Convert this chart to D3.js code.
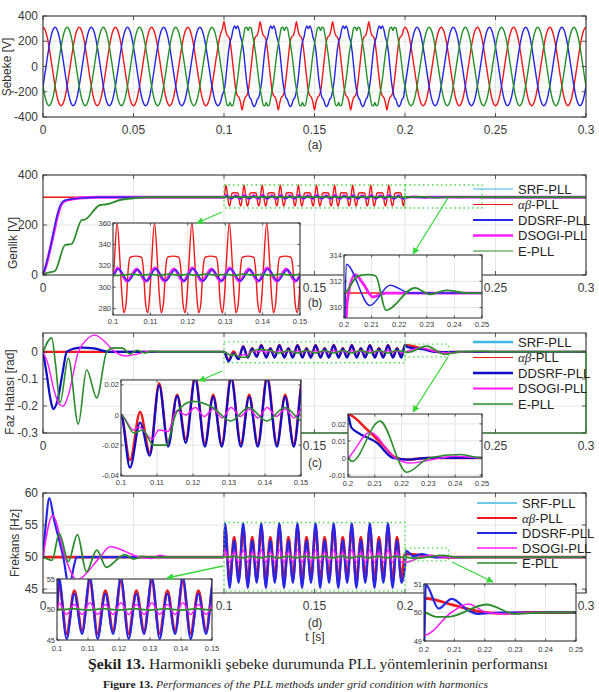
<!DOCTYPE html>
<html>
<head>
<meta charset="utf-8">
<script src="https://cdn.jsdelivr.net/npm/d3@7"></script>
<style>
body { margin: 0; background: #fff; }
svg { display: block; font-family: "Liberation Sans", Arial, sans-serif; }
</style>
</head>
<body>
<svg id="fig" width="599" height="692"></svg>
<script>
/***    DATA    **/

var timeTicks = [0, 0.05, 0.1, 0.15, 0.2, 0.25, 0.3];
var gridTicks = [-400, -200, 0, 200, 400];
var ampTicks = [0, 200, 400];
var phaseTicks = [-0.3, -0.2, -0.1, 0];
var freqTicks = [45, 50, 55, 60];
var zoomTicksA = [0.1, 0.11, 0.12, 0.13, 0.14, 0.15];
var zoomTicksB = [0.2, 0.21, 0.22, 0.23, 0.24, 0.25];
var ampZoomTicksA = [280, 300, 320, 340, 360];
var ampZoomTicksB = [310, 312, 314];
var phaseZoomTicksA = [-0.04, -0.02, 0, 0.02];
var phaseZoomTicksB = [-0.01, 0, 0.01, 0.02];
var freqZoomTicksA = [45, 50, 55];
var freqZoomTicksB = [49, 50, 51];

var methods = ['SRF-PLL', 'αβ-PLL', 'DDSRF-PLL', 'DSOGI-PLL', 'E-PLL'];

// (a) one 20 ms cycle of each phase, 24 samples, starting at that phase's peak [V]
var gridCleanCycle = [311, 300, 269, 220, 156, 80, 0, -80, -156, -220, -269, -300, -311, -300, -269, -220, -156, -80, 0, 80, 156, 220, 269, 300];
var gridHarmCycleA = [355, 292, 248, 236, 205, 112, 0, -108, -200, -232, -245, -285, -345, -285, -245, -232, -200, -108, 0, 112, 205, 236, 248, 292];
var gridHarmCycleB = [300, 322, 292, 232, 195, 118, 0, -118, -195, -245, -262, -300, -318, -300, -262, -245, -195, -118, 0, 118, 195, 232, 292, 322];
var gridHarmCycleC = [285, 312, 305, 245, 180, 100, 0, -100, -180, -245, -305, -312, -285, -312, -305, -245, -180, -100, 0, 100, 180, 245, 305, 312];

// harmonic window 0.1 - 0.2 s, oscillation cycles repeat every 10 ms
var harmPeriod = 0.01;

// (b) amplitude [V]: [t, value]
var ampAbStart = [[0, 311.1], [0.1, 311.1]];
var ampAbCycle = [[0, 360], [0.0008, 322], [0.0013, 292], [0.0018, 276], [0.0024, 285], [0.003, 318], [0.0035, 328], [0.005, 329], [0.0065, 328], [0.007, 318], [0.0076, 285], [0.0082, 276], [0.0087, 292], [0.0092, 322]];
var ampAbEnd = [[0.2, 311.1], [0.3, 311.1]];

var ampDdStart = [[0, 0], [0.002, 50], [0.004, 110], [0.006, 180], [0.008, 245], [0.01, 285], [0.012, 298], [0.016, 304], [0.022, 308], [0.03, 311], [0.1, 311]];
var ampDdCycle = [[0, 317], [0.0027, 306], [0.0052, 316], [0.0077, 306]];
var ampDdEnd = [[0.2, 306], [0.2008, 313.3], [0.2094, 310.15], [0.2167, 311.7], [0.224, 311.1], [0.3, 311.1]];

var ampDsoStart = [[0, 0], [0.002, 45], [0.004, 105], [0.006, 170], [0.008, 235], [0.01, 280], [0.012, 296], [0.016, 303], [0.022, 309], [0.03, 311], [0.1, 311]];
var ampDsoCycle = [[0, 318], [0.0026, 305.5], [0.0051, 317], [0.0076, 305.5]];
var ampDsoEnd = [[0.2, 306], [0.2012, 310.5], [0.204, 312.5], [0.207, 311.8], [0.2105, 310.8], [0.215, 311.1], [0.3, 311.1]];

var ampEStart = [[0, 0], [0.002, 8], [0.0066, 16], [0.0122, 120], [0.0158, 124], [0.0214, 220], [0.0232, 222], [0.0315, 280], [0.0352, 283], [0.0425, 300], [0.05, 307], [0.059, 311], [0.1, 311]];
var ampECycle = [[0, 311], [0.0025, 312.3], [0.005, 311.2], [0.0075, 312]];
var ampEEnd = [[0.2, 311.1], [0.205, 312.4], [0.209, 312.5], [0.2115, 312.4], [0.2152, 309.8], [0.2257, 311.5], [0.231, 311], [0.237, 311.3], [0.245, 311.1], [0.3, 311.1]];

// (c) phase error [rad]
var phAbStart = [[0, 0], [0.1, 0], [0.1025, -0.03], [0.1053, 0.002], [0.108, -0.025], [0.1106, 0.021], [0.1131, -0.019], [0.1156, 0.0135], [0.118, -0.016]];
var phAbCycle = [[0, 0.0255], [0.0027, -0.019], [0.005, 0.0135], [0.0074, -0.019]];
var phAbEnd = [[0.2, 0.0255], [0.2069, 0.017], [0.2132, 0.0072], [0.2175, 0.0004], [0.222, -0.001], [0.23, 0], [0.3, 0]];

var phDdStart = [[0, 0], [0.002, -0.08], [0.004, -0.17], [0.0057, -0.212], [0.008, -0.18], [0.011, -0.07], [0.0131, 0], [0.017, 0.012], [0.022, 0.016], [0.028, 0.013], [0.037, 0], [0.1, 0], [0.1025, -0.035], [0.1053, -0.005], [0.108, -0.027], [0.1106, 0.0196], [0.1131, -0.021], [0.1156, 0.0126], [0.118, -0.0185]];
var phDdCycle = [[0, 0.024], [0.0027, -0.021], [0.005, 0.012], [0.0074, -0.021]];
var phDdEnd = [[0.2, 0.025], [0.2012, 0.018], [0.2035, 0.015], [0.2107, 0.009], [0.2168, 0], [0.222, -0.001], [0.23, 0], [0.3, 0]];

var phDsoStart = [[0, 0], [0.003, -0.05], [0.006, -0.14], [0.0092, -0.195], [0.0112, -0.2], [0.014, -0.16], [0.0195, 0], [0.024, 0.045], [0.0287, 0.062], [0.033, 0.045], [0.0398, 0], [0.046, -0.015], [0.052, -0.008], [0.058, 0.002], [0.065, 0], [0.1, 0], [0.1035, -0.01], [0.105, -0.008], [0.1087, -0.016], [0.1105, -0.01], [0.113, -0.011], [0.1155, 0.003], [0.118, 0]];
var phDsoCycle = [[0, 0.005], [0.0025, -0.001], [0.005, 0.004], [0.0075, -0.002]];
var phDsoEnd = [[0.2, 0], [0.2082, 0.015], [0.2175, 0], [0.2231, -0.003], [0.235, 0], [0.24, 0.001], [0.25, 0], [0.3, 0]];

var phEStart = [[0, 0], [0.0048, 0.052], [0.007, -0.05], [0.0094, -0.188], [0.014, -0.023], [0.0195, -0.267], [0.0241, -0.066], [0.0297, -0.17], [0.0352, 0], [0.039, 0.015], [0.044, 0.014], [0.048, -0.008], [0.052, 0.006], [0.056, -0.004], [0.06, 0.002], [0.065, 0], [0.1, 0], [0.1036, -0.012], [0.106, -0.01], [0.109, -0.02], [0.1125, -0.02], [0.1155, 0.002], [0.12, 0.009]];
var phECycle = [[0, 0.005], [0.005, -0.004]];
var phEEnd = [[0.2, 0], [0.2015, -0.002], [0.2119, 0.0216], [0.2219, -0.0084], [0.2303, 0], [0.2418, 0.002], [0.25, 0], [0.3, 0]];

// (d) frequency [Hz]
var frAbStart = [[0, 50], [0.1, 50]];
var frAbCycle = [[0, 54.6], [0.0025, 46], [0.005, 53.1], [0.0075, 46.5]];
var frAbEnd = [[0.2, 50.5], [0.21, 50.25], [0.2188, 50.02], [0.225, 49.97], [0.235, 50], [0.3, 50]];

var frDdStart = [[0, 50], [0.0015, 55], [0.0035, 59.2], [0.006, 56], [0.0112, 50], [0.0145, 45.3], [0.017, 48.5], [0.0186, 50], [0.1, 50]];
var frDdCycle = [[0, 55.3], [0.0025, 45.2], [0.005, 52.6], [0.0075, 46]];
var frDdEnd = [[0.2, 48.5], [0.2006, 50.97], [0.2048, 50.14], [0.2091, 50.48], [0.2145, 50.08], [0.2175, 49.95], [0.225, 50], [0.3, 50]];

var frDsoStart = [[0, 50], [0.0053, 56.5], [0.0122, 50], [0.0186, 46.5], [0.0315, 50], [0.037, 51.6], [0.0536, 50], [0.06, 49.8], [0.0645, 50.3], [0.07, 50], [0.1, 50]];
var frDsoCycle = [[0, 51.1], [0.0025, 49.2], [0.005, 50.8], [0.0075, 49.2]];
var frDsoEnd = [[0.2, 49.2], [0.209, 50], [0.2145, 50.3], [0.2208, 50], [0.2272, 49.95], [0.235, 50], [0.3, 50]];

var frEStart = [[0, 50], [0.005, 49.5], [0.009, 53.7], [0.014, 49.3], [0.019, 53.5], [0.024, 47.7], [0.0297, 51.1], [0.035, 48.4], [0.0425, 50], [0.045, 50.4], [0.05, 49.7], [0.055, 50.1], [0.06, 50], [0.1, 50]];
var frECycle = [[0, 50], [0.0025, 50.15], [0.005, 50], [0.0075, 49.9]];
var frEEnd = [[0.2, 50], [0.204, 49.85], [0.208, 49.85], [0.2205, 50.28], [0.23, 49.95], [0.24, 50], [0.3, 50]];


/***    BUILD SERIES    **/

// repeat one oscillation cycle over the harmonic window
function tile(startPts, cyclePts, cycleFrom, endPts) {
  var pts = startPts.slice();
  for (var n = 0; cycleFrom + n * harmPeriod < 0.2; n++) {
    var c = cycleFrom + n * harmPeriod;
    cyclePts.forEach(function(p) {
      if (c + p[0] < 0.1995) pts.push([c + p[0], p[1]]);
    });
  }
  return pts.concat(endPts);
}

function phaseWave(harmCycle, shift) {
  var pts = [];
  for (var k = 0; k <= 360; k++) {
    var i = ((k - shift) % 24 + 24) % 24;
    var inHarm = k >= 120 && k < 240;
    pts.push([k * 0.3 / 360, inHarm ? harmCycle[i] : gridCleanCycle[i]]);
  }
  return pts;
}

var gridA = phaseWave(gridHarmCycleA, 0);
var gridB = phaseWave(gridHarmCycleB, 8);
var gridC = phaseWave(gridHarmCycleC, 16);

var ampSeries = {
  ab: tile(ampAbStart, ampAbCycle, 0.1011, ampAbEnd),
  dd: tile(ampDdStart, ampDdCycle, 0.1014, ampDdEnd),
  dso: tile(ampDsoStart, ampDsoCycle, 0.1012, ampDsoEnd),
  e: tile(ampEStart, ampECycle, 0.1025, ampEEnd)
};
var phSeries = {
  ab: tile(phAbStart, phAbCycle, 0.1206, phAbEnd),
  dd: tile(phDdStart, phDdCycle, 0.1206, phDdEnd),
  dso: tile(phDsoStart, phDsoCycle, 0.1206, phDsoEnd),
  e: tile(phEStart, phECycle, 0.1255, phEEnd)
};
var frSeries = {
  ab: tile(frAbStart, frAbCycle, 0.1006, frAbEnd),
  dd: tile(frDdStart, frDdCycle, 0.1006, frDdEnd),
  dso: tile(frDsoStart, frDsoCycle, 0.1006, frDsoEnd),
  e: tile(frEStart, frECycle, 0.1025, frEEnd)
};


/***    DRAWING    **/

var svg = d3.select('#fig');
var defs = svg.append('defs');

var colors = {
  srf: '#3cb6e3',
  ab: '#f01818',
  dd: '#2626e8',
  ddDark: '#0c0cc8',
  dso: '#ff1aff',
  e: '#2a8c2a',
  arrow: '#38d838'
};

var clipCount = 0;

// box with grid, ticks and tick labels; lines go into the returned clipped group
function makeAxes(o) {
  var x = d3.scaleLinear().domain(o.xDomain).range([o.x0, o.x1]);
  var y = d3.scaleLinear().domain(o.yDomain).range([o.y1, o.y0]);
  var g = svg.append('g');
  var tl = o.inset ? 2.5 : 4;

  g.append('rect')
      .attr('x', o.x0).attr('y', o.y0)
      .attr('width', o.x1 - o.x0).attr('height', o.y1 - o.y0)
      .attr('fill', '#fff');

  g.selectAll(null).data(o.xTicks).enter().append('line')
      .attr('x1', x).attr('x2', x)
      .attr('y1', o.y0).attr('y2', o.y1)
      .attr('stroke', '#dedede').attr('stroke-width', 0.8);
  g.selectAll(null).data(o.yTicks).enter().append('line')
      .attr('y1', y).attr('y2', y)
      .attr('x1', o.x0).attr('x2', o.x1)
      .attr('stroke', '#dedede').attr('stroke-width', 0.8);

  // tick labels
  g.selectAll(null).data(o.xTicks).enter().append('text')
      .attr('x', x)
      .attr('y', o.y1 + o.xLabOff)
      .attr('text-anchor', 'middle')
      .attr('font-size', o.fs)
      .attr('fill', '#3a3a3a')
      .text(function(d) { return String(d); });
  g.selectAll(null).data(o.yTicks).enter().append('text')
      .attr('x', o.x0 - o.yLabOff)
      .attr('y', y)
      .attr('dy', '0.35em')
      .attr('text-anchor', 'end')
      .attr('font-size', o.fs)
      .attr('fill', '#3a3a3a')
      .text(function(d) { return String(d); });

  var id = 'clip' + (clipCount++);
  defs.append('clipPath').attr('id', id).append('rect')
      .attr('x', o.x0).attr('y', o.y0)
      .attr('width', o.x1 - o.x0).attr('height', o.y1 - o.y0);
  var lines = g.append('g').attr('clip-path', 'url(#' + id + ')');

  // inward ticks on all four sides
  o.xTicks.forEach(function(d) {
    g.append('line').attr('x1', x(d)).attr('x2', x(d)).attr('y1', o.y1).attr('y2', o.y1 - tl)
        .attr('stroke', '#333').attr('stroke-width', 0.8);
    g.append('line').attr('x1', x(d)).attr('x2', x(d)).attr('y1', o.y0).attr('y2', o.y0 + tl)
        .attr('stroke', '#333').attr('stroke-width', 0.8);
  });
  o.yTicks.forEach(function(d) {
    g.append('line').attr('y1', y(d)).attr('y2', y(d)).attr('x1', o.x0).attr('x2', o.x0 + tl)
        .attr('stroke', '#333').attr('stroke-width', 0.8);
    g.append('line').attr('y1', y(d)).attr('y2', y(d)).attr('x1', o.x1).attr('x2', o.x1 - tl)
        .attr('stroke', '#333').attr('stroke-width', 0.8);
  });

  var top = g.append('g');
  top.append('rect')
      .attr('x', o.x0).attr('y', o.y0)
      .attr('width', o.x1 - o.x0).attr('height', o.y1 - o.y0)
      .attr('fill', 'none').attr('stroke', '#2b2b2b').attr('stroke-width', 1);

  return { x: x, y: y, g: lines, top: top };
}

function addLine(ax, pts, color, width) {
  var line = d3.line()
      .x(function(d) { return ax.x(d[0]); })
      .y(function(d) { return ax.y(d[1]); })
      .curve(d3.curveMonotoneX);
  ax.g.append('path').datum(pts)
      .attr('d', line)
      .attr('fill', 'none')
      .attr('stroke', color)
      .attr('stroke-width', width)
      .attr('stroke-linejoin', 'round');
}

// order and widths of the four visible methods in each panel
function drawMethods(ax, s, style) {
  style.forEach(function(st) {
    addLine(ax, s[st.key], st.color, st.w);
  });
}

var ampStyle = [
  { key: 'ab', color: colors.ab, w: 1.4 },
  { key: 'dso', color: colors.dso, w: 2.8 },
  { key: 'dd', color: colors.dd, w: 1.4 },
  { key: 'e', color: colors.e, w: 1.8 }
];
var phStyle = [
  { key: 'ab', color: colors.ab, w: 2.4 },
  { key: 'dd', color: colors.ddDark, w: 2.2 },
  { key: 'dso', color: colors.dso, w: 1.4 },
  { key: 'e', color: colors.e, w: 1.6 }
];
var frStyle = [
  { key: 'ab', color: colors.ab, w: 2.8 },
  { key: 'dd', color: colors.dd, w: 2.2 },
  { key: 'dso', color: colors.dso, w: 1.5 },
  { key: 'e', color: colors.e, w: 1.8 }
];

function mainAxes(y0, y1, yDomain, yTicks) {
  return makeAxes({
    x0: 43, x1: 586, y0: y0, y1: y1,
    xDomain: [0, 0.3], yDomain: yDomain,
    xTicks: timeTicks, yTicks: yTicks,
    fs: 12, xLabOff: 17, yLabOff: 5
  });
}

function insetAxes(x0, x1, y0, y1, xDomain, yDomain, xTicks, yTicks, labOff) {
  return makeAxes({
    x0: x0, x1: x1, y0: y0, y1: y1,
    xDomain: xDomain, yDomain: yDomain,
    xTicks: xTicks, yTicks: yTicks,
    fs: 7.5, xLabOff: labOff || 9, yLabOff: 2, inset: true
  });
}

function yTitle(text, x, y) {
  svg.append('text')
      .attr('transform', 'translate(' + x + ',' + y + ') rotate(-90)')
      .attr('dy', '0.35em')
      .attr('text-anchor', 'middle')
      .attr('font-size', 12)
      .attr('fill', '#333')
      .text(text);
}

function tag(text, y) {
  svg.append('text')
      .attr('x', 315).attr('y', y)
      .attr('text-anchor', 'middle')
      .attr('font-size', 12)
      .attr('fill', '#333')
      .text(text);
}

function dottedBox(ax, t0, t1, v0, v1) {
  ax.top.append('rect')
      .attr('x', ax.x(t0)).attr('y', ax.y(v1))
      .attr('width', ax.x(t1) - ax.x(t0))
      .attr('height', ax.y(v0) - ax.y(v1))
      .attr('fill', 'none')
      .attr('stroke', '#45dd45')
      .attr('stroke-width', 1.3)
      .attr('stroke-dasharray', '1.5,3');
}

function legend(x, y0, step, widths, ddColor) {
  var cols = [colors.srf, colors.ab, ddColor, colors.dso, colors.e];
  methods.forEach(function(name, i) {
    var y = y0 + i * step;
    svg.append('line')
        .attr('x1', x).attr('x2', x + 40)
        .attr('y1', y).attr('y2', y)
        .attr('stroke', cols[i]).attr('stroke-width', widths[i]);
    var t = svg.append('text')
        .attr('x', x + 45).attr('y', y)
        .attr('dy', '0.36em')
        .attr('font-size', 13)
        .attr('fill', '#222');
    if (name.indexOf('αβ') === 0) {
      t.append('tspan').attr('font-family', '"Liberation Serif", serif').attr('font-style', 'italic').text('αβ');
      t.append('tspan').text('-PLL');
    } else {
      t.text(name);
    }
  });
}

defs.append('marker')
    .attr('id', 'arrowhead')
    .attr('viewBox', '0 0 10 10')
    .attr('refX', 9).attr('refY', 5)
    .attr('markerWidth', 7).attr('markerHeight', 7)
    .attr('markerUnits', 'userSpaceOnUse')
    .attr('orient', 'auto')
  .append('path')
    .attr('d', 'M0,0 L10,5 L0,10 z')
    .attr('fill', colors.arrow);

function arrow(x1, y1, x2, y2) {
  svg.append('line')
      .attr('x1', x1).attr('y1', y1)
      .attr('x2', x2).attr('y2', y2)
      .attr('stroke', colors.arrow)
      .attr('stroke-width', 1.3)
      .attr('marker-end', 'url(#arrowhead)');
}

// ---- (a) grid voltages
var axA = mainAxes(16, 117, [-400, 400], gridTicks);
addLine(axA, gridA, colors.ab, 1.4);
addLine(axA, gridB, '#2424e8', 1.4);
addLine(axA, gridC, '#24902a', 1.4);
yTitle('Şebeke [V]', 7, 67);
tag('(a)', 149);

// ---- (b) amplitude
var axB = mainAxes(175, 275, [0, 400], ampTicks);
drawMethods(axB, ampSeries, ampStyle);
dottedBox(axB, 0.1, 0.2, 268, 360);
dottedBox(axB, 0.2, 0.2425, 268, 360);
yTitle('Genlik [V]', 13, 243);
tag('(b)', 307);
legend(473, 189, 15.5, [1, 1.2, 1.8, 2.6, 1.2], colors.dd);

// ---- (c) phase error
var axC = mainAxes(333, 433, [-0.3, 0.07], phaseTicks);
drawMethods(axC, phSeries, phStyle);
dottedBox(axC, 0.1, 0.2, -0.04, 0.037);
dottedBox(axC, 0.2, 0.224, -0.018, 0.029);
svg.append('path')
    .attr('d', 'M300,433H586V' + axC.y(0))
    .attr('fill', 'none').attr('stroke', colors.e).attr('stroke-width', 1.2);
yTitle('Faz Hatası [rad]', 10, 392);
tag('(c)', 467);
legend(473, 342, 15.5, [2.4, 1.2, 2.6, 1.8, 1.6], colors.ddDark);

// ---- (d) frequency
var axD = mainAxes(493, 593, [44.4, 60], freqTicks);
drawMethods(axD, frSeries, frStyle);
dottedBox(axD, 0.1, 0.2, 44.7, 55.4);
dottedBox(axD, 0.2, 0.224, 49.4, 51.4);
yTitle('Frekans [Hz]', 15, 543);
tag('(d)', 627);
tag('t [s]', 641);
legend(477, 503, 15, [1.6, 2.2, 2.2, 1.6, 1.6], colors.dd);

// ---- zoom insets
var inB1 = insetAxes(113, 300, 223, 315, [0.1, 0.15], [274, 360], zoomTicksA, ampZoomTicksA);
drawMethods(inB1, ampSeries, ampStyle);
var inB2 = insetAxes(344, 482, 255, 318, [0.2, 0.25], [309.2, 314], zoomTicksB, ampZoomTicksB);
drawMethods(inB2, ampSeries, ampStyle);

var inC1 = insetAxes(121, 301, 380, 476, [0.1, 0.15], [-0.0405, 0.0232], zoomTicksA, phaseZoomTicksA);
drawMethods(inC1, phSeries, phStyle);
var inC2 = insetAxes(348, 482, 414, 477, [0.2, 0.25], [-0.0112, 0.0258], zoomTicksB, phaseZoomTicksB);
drawMethods(inC2, phSeries, phStyle);

var inD1 = insetAxes(57, 212, 579, 640, [0.1, 0.15], [45, 55], zoomTicksA, freqZoomTicksA, 11);
drawMethods(inD1, frSeries, frStyle);
var inD2 = insetAxes(424, 576, 584, 641, [0.2, 0.25], [49, 51], zoomTicksB, freqZoomTicksB, 11);
drawMethods(inD2, frSeries, frStyle);

// green pointers from the dotted boxes to the insets
arrow(222, 212, 197, 223);
arrow(448, 198, 413, 254);
arrow(222, 371, 199, 381);
arrow(448, 357, 413, 412);
arrow(223, 566, 167, 578);
arrow(452, 562, 493, 582);

// ---- caption
var cap1 = svg.append('text')
    .attr('x', 88).attr('y', 669)
    .attr('font-family', '"Liberation Serif", serif')
    .attr('font-size', 15.5)
    .attr('fill', '#1e1e1e')
    .attr('textLength', 460)
    .attr('lengthAdjust', 'spacingAndGlyphs');
cap1.append('tspan').attr('font-weight', 'bold').text('Şekil 13.');
cap1.append('tspan').text(' Harmonikli şebeke durumunda PLL yöntemlerinin performansı');

var cap2 = svg.append('text')
    .attr('x', 103).attr('y', 688)
    .attr('font-family', '"Liberation Serif", serif')
    .attr('font-size', 10.5)
    .attr('fill', '#1e1e1e')
    .attr('textLength', 385)
    .attr('lengthAdjust', 'spacingAndGlyphs');
cap2.append('tspan').attr('font-weight', 'bold').text('Figure 13.');
cap2.append('tspan').attr('font-style', 'italic').text(' Performances of the PLL methods under grid condition with harmonics');
</script>
</body>
</html>
